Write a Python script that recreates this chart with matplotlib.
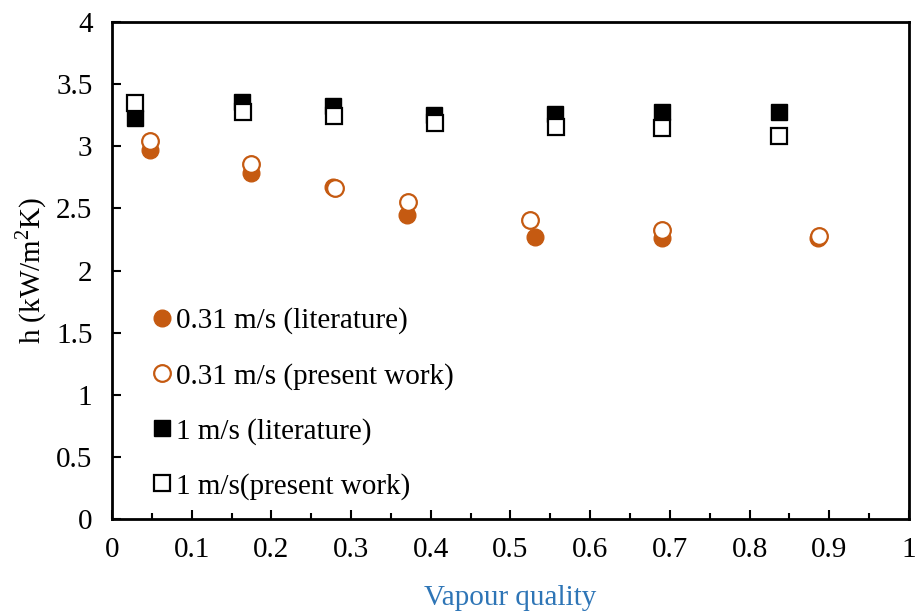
import numpy as np
import matplotlib
matplotlib.use('Agg')
import matplotlib.pyplot as plt
from matplotlib.ticker import MultipleLocator

plt.rcParams['font.family'] = ['Liberation Serif', 'DejaVu Serif']
plt.rcParams['mathtext.fontset'] = 'custom'
plt.rcParams['mathtext.rm'] = 'Liberation Serif'

# heat transfer coefficient vs vapour quality
x_lit_031 = [0.048, 0.174, 0.277, 0.370, 0.531, 0.690, 0.886]
h_lit_031 = [2.97, 2.786, 2.67, 2.444, 2.272, 2.264, 2.26]

x_pw_031 = [0.048, 0.175, 0.280, 0.372, 0.525, 0.690, 0.887]
h_pw_031 = [3.04, 2.857, 2.667, 2.554, 2.406, 2.33, 2.275]

x_lit_1 = [0.029, 0.163, 0.277, 0.404, 0.556, 0.690, 0.837]
h_lit_1 = [3.227, 3.356, 3.324, 3.25, 3.26, 3.273, 3.276]

x_pw_1 = [0.029, 0.164, 0.279, 0.405, 0.557, 0.690, 0.837]
h_pw_1 = [3.35, 3.278, 3.24, 3.19, 3.157, 3.144, 3.085]

orange = '#C55A11'
blue = '#2E75B6'
fs = 21

fig = plt.figure(figsize=(9.15, 6.13), dpi=100)
ax = fig.add_axes([0.1224, 0.1533, 0.8710, 0.8107])

ms = 12
ax.plot(x_lit_031, h_lit_031, 'o', ms=ms, color=orange, mec=orange,
        label='0.31 m/s (literature)', zorder=3)
ax.plot(x_pw_031, h_pw_031, 'o', ms=ms, mfc='white', mec=orange, mew=1.6,
        label='0.31 m/s (present work)', zorder=4)
ax.plot(x_lit_1, h_lit_1, 's', ms=ms, color='black', mec='black',
        label='1 m/s (literature)', zorder=5)
ax.plot(x_pw_1, h_pw_1, 's', ms=ms, mfc='white', mec='black', mew=1.6,
        label='1 m/s(present work)', zorder=6)

ax.set_xlim(0, 1)
ax.set_ylim(0, 4)
ax.xaxis.set_minor_locator(MultipleLocator(0.05))
ax.set_xticks(np.arange(0, 1.01, 0.1))
ax.set_xticklabels(['0', '0.1', '0.2', '0.3', '0.4', '0.5', '0.6', '0.7', '0.8', '0.9', '1'])
ax.set_yticks(np.arange(0, 4.01, 0.5))
ax.set_yticklabels(['0', '0.5', '1', '1.5', '2', '2.5', '3', '3.5', '4'])

ax.tick_params(axis='both', which='major', direction='in', length=6.5, width=1.5,
               labelsize=fs)
ax.tick_params(axis='x', which='major', pad=13)
ax.tick_params(axis='y', which='major', pad=14)
ax.tick_params(axis='x', which='minor', direction='in', length=4.5, width=1.5)
ax.tick_params(axis='y', which='minor', left=False)
for s in ax.spines.values():
    s.set_linewidth(2)

ax.set_xlabel('Vapour quality', fontsize=fs, color=blue, labelpad=16)
ax.set_ylabel('h (kW/m$^2$K)', fontsize=fs, labelpad=5)

ax.legend(loc='lower left', bbox_to_anchor=(0.023, 0.006), frameon=False,
          fontsize=fs, handletextpad=-0.1, labelspacing=0.97, handlelength=1.1,
          borderaxespad=0.4, borderpad=0.15)

fig.savefig('out.png', dpi=100)
